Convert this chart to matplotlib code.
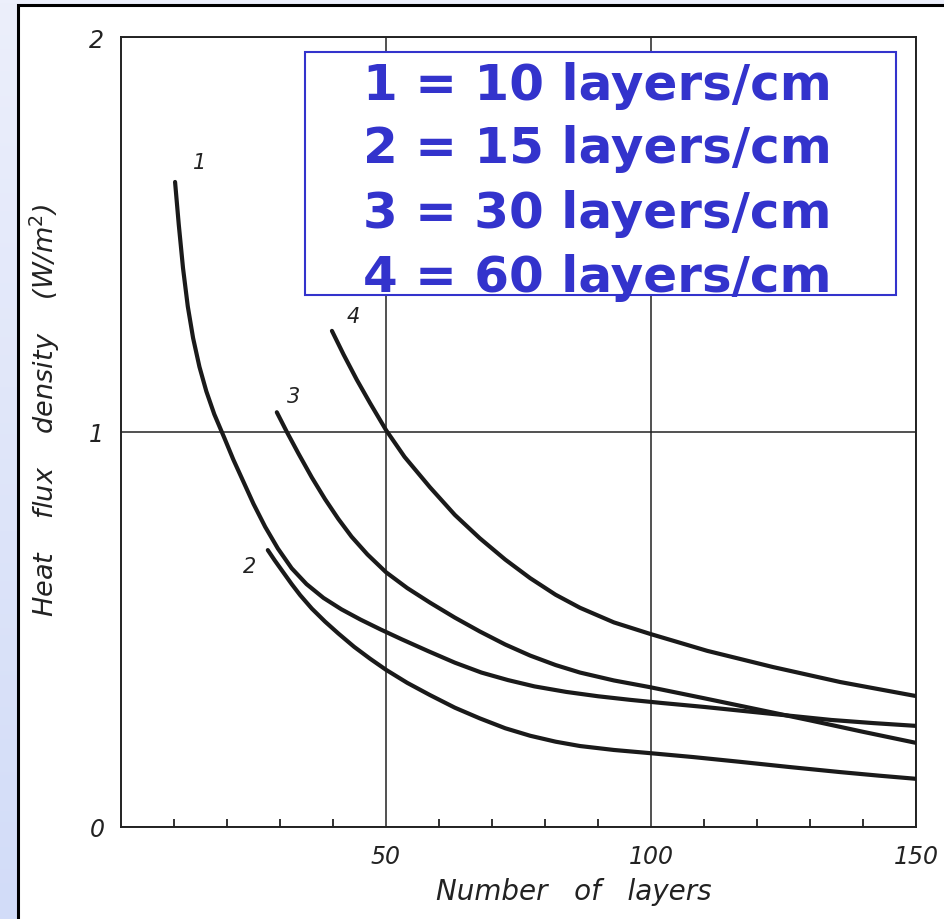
import numpy as np
import matplotlib
matplotlib.use("Agg")
import matplotlib.pyplot as plt
from matplotlib.patches import Rectangle
from matplotlib.colors import LinearSegmentedColormap

# curve 1 = 10 layers/cm
x1 = [10.2, 10.9, 11.7, 12.6, 13.6, 14.8, 16.1, 17.6, 19.5, 21.2, 23.0, 25.0, 27.2, 29.6,
      32.2, 35.0, 38.2, 41.6, 45.2, 49.0, 53.0, 58.0, 63.0, 68.0, 73.0, 78.0, 84.0, 90.0,
      96.0, 102.0, 110.0, 118.0, 126.0, 134.0, 142.0, 150.0]
y1 = [1.633, 1.525, 1.415, 1.318, 1.238, 1.165, 1.103, 1.045, 0.985, 0.930, 0.877, 0.818,
      0.760, 0.705, 0.655, 0.615, 0.580, 0.551, 0.525, 0.500, 0.475, 0.445, 0.416, 0.391,
      0.372, 0.356, 0.342, 0.331, 0.322, 0.314, 0.304, 0.293, 0.282, 0.271, 0.263, 0.256]
# curve 2 = 15 layers/cm
x2 = [27.7, 29.0, 30.6, 32.2, 33.8, 36.0, 38.5, 41.0, 44.0, 47.0, 50.0, 54.0, 58.3, 63.0,
      67.7, 72.5, 77.2, 82.0, 86.6, 93.0, 99.8, 108.0, 116.8, 126.0, 135.7, 143.0, 150.0]
y2 = [0.701, 0.675, 0.645, 0.615, 0.587, 0.553, 0.520, 0.490, 0.456, 0.426, 0.398, 0.365,
      0.334, 0.302, 0.275, 0.250, 0.231, 0.216, 0.205, 0.195, 0.187, 0.177, 0.165, 0.152,
      0.139, 0.130, 0.122]
# curve 3 = 30 layers/cm
x3 = [29.4, 31.3, 33.5, 36.0, 38.5, 41.0, 43.5, 46.5, 50.0, 54.0, 58.3, 63.0, 67.7, 72.5,
      77.2, 82.0, 86.6, 93.0, 99.8, 110.0, 120.0, 130.0, 140.0, 150.0]
y3 = [1.050, 1.000, 0.945, 0.885, 0.830, 0.780, 0.735, 0.690, 0.645, 0.605, 0.568, 0.530,
      0.495, 0.462, 0.434, 0.410, 0.391, 0.371, 0.354, 0.326, 0.298, 0.270, 0.241, 0.213]
# curve 4 = 60 layers/cm
x4 = [39.8, 42.0, 44.5, 47.0, 50.0, 53.5, 58.3, 63.0, 67.7, 72.5, 77.2, 82.0, 86.6, 93.0,
      99.8, 110.6, 123.0, 135.7, 149.8]
y4 = [1.256, 1.196, 1.132, 1.073, 1.005, 0.937, 0.860, 0.790, 0.731, 0.677, 0.630, 0.588,
      0.555, 0.518, 0.489, 0.446, 0.405, 0.367, 0.332]

curveLabels = ["1", "2", "3", "4"]
labelPos = [(14.9, 1.684), (24.3, 0.661), (32.5, 1.091), (43.8, 1.294)]
legendLines = ["1 = 10 layers/cm", "2 = 15 layers/cm", "3 = 30 layers/cm", "4 = 60 layers/cm"]

W, H = 945, 920
fig = plt.figure(figsize=(W / 100, H / 100), dpi=100)

# slide background: pale blue gradient + white panel with black frame
bg = fig.add_axes([0, 0, 1, 1], zorder=-3)
cmap = LinearSegmentedColormap.from_list("bg", ["#eceffb", "#d2dcf8"])
bg.imshow(np.linspace(0, 1, 256).reshape(-1, 1), aspect="auto", cmap=cmap, extent=[0, 1, 0, 1])
bg.axis("off")
panel = Rectangle((18 / W, -0.05), 1.1, 1 - 6 / H + 0.05, transform=fig.transFigure,
                  facecolor="white", edgecolor="black", linewidth=2.2, zorder=-2)
fig.patches.append(panel)

ax = fig.add_axes([121 / W, 1 - 828 / H, 795 / W, 790 / H])
ax.set_facecolor("none")

for xs, ys in [(x1, y1), (x2, y2), (x3, y3), (x4, y4)]:
    ax.plot(xs, ys, color="#1a1a1a", linewidth=3.0, solid_capstyle="round",
            solid_joinstyle="round", zorder=3)

for lbl, (px, py) in zip(curveLabels, labelPos):
    ax.text(px, py, lbl, fontsize=15, style="italic", ha="center", va="center", color="#222222")

ax.set_xlim(0, 150)
ax.set_ylim(0, 2)
ax.set_xticks([50, 100, 150])
ax.set_xticks(np.arange(10, 150, 10), minor=True)
ax.set_yticks([0, 1, 2])
ax.tick_params(axis="both", which="major", length=0, labelsize=17, colors="#222222")
ax.tick_params(axis="x", which="major", pad=12)
ax.tick_params(axis="y", which="major", pad=12)
ax.tick_params(axis="x", which="minor", direction="in", length=6, width=1.3, color="#222222")
for t in ax.get_xticklabels() + ax.get_yticklabels():
    t.set_style("italic")
ax.grid(True, which="major", color="#222222", linewidth=1.1)
ax.set_axisbelow(True)
for s in ax.spines.values():
    s.set_linewidth(1.4)
    s.set_color("#222222")

ax.set_xlabel("Number   of   layers", fontsize=20, style="italic", color="#222222")
ax.xaxis.set_label_coords(0.569, -0.063)
ax.set_ylabel("Heat    flux    density    (W/m$^2$)", fontsize=19.5, style="italic",
              color="#222222", va="center")
ax.yaxis.set_label_coords(-0.0956, 0.529)

# legend box in blue
box = Rectangle((305 / W, 1 - 296 / H), 591 / W, 243 / H, transform=fig.transFigure,
                facecolor="white", edgecolor="#3333cc", linewidth=1.5, zorder=5)
fig.patches.append(box)
baselines = [100, 163, 228, 292]
for txt, b in zip(legendLines, baselines):
    fig.text(597 / W, 1 - b / H, txt, fontsize=36, fontweight="bold", color="#3333cc",
             ha="center", va="baseline", zorder=6)

fig.savefig("out.png", dpi=100)
